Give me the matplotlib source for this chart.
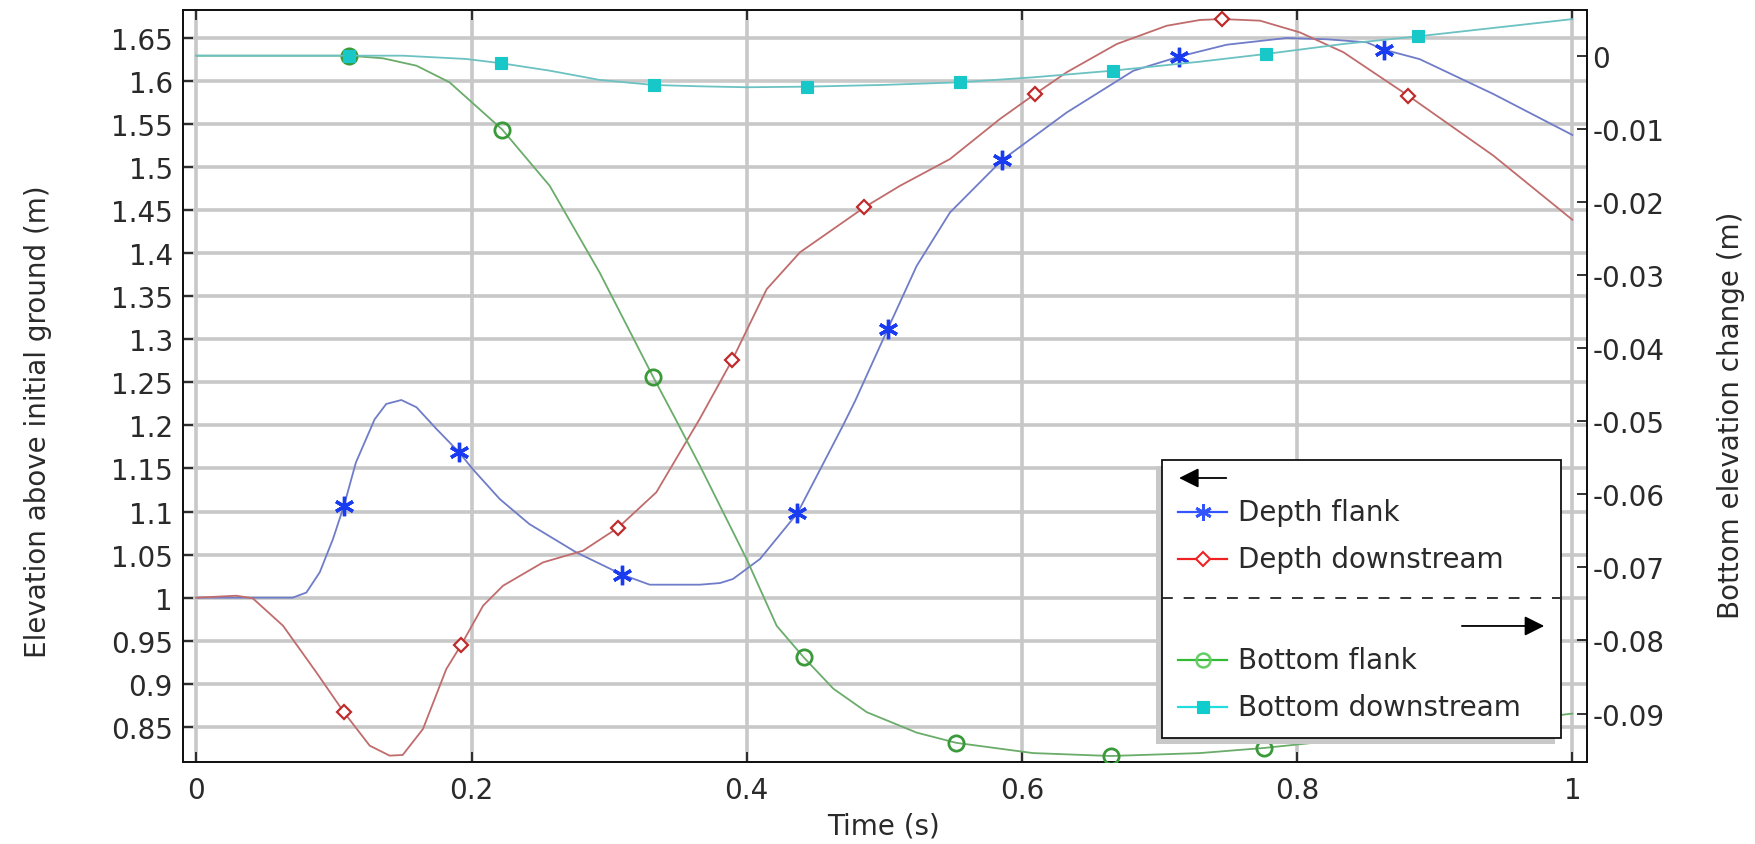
import matplotlib
matplotlib.use("Agg")
import matplotlib.pyplot as plt
from matplotlib.lines import Line2D
from matplotlib.patches import Rectangle, FancyArrowPatch
from matplotlib.ticker import FuncFormatter, MultipleLocator

plt.rcParams["font.family"] = ["DejaVu Sans"]
plt.rcParams["axes.unicode_minus"] = False

# Depth flank (left axis)
flank_t = [0, 0.070, 0.080, 0.0897, 0.0993, 0.1073, 0.116, 0.1296, 0.138, 0.149,
           0.160, 0.1744, 0.191, 0.201, 0.2205, 0.242, 0.276, 0.3096, 0.3295, 0.366,
           0.3806, 0.390, 0.4097, 0.4368, 0.458, 0.470, 0.4787, 0.5025, 0.5235, 0.5477,
           0.5857, 0.6325, 0.681, 0.7144, 0.7488, 0.7924, 0.8215, 0.8506, 0.863, 0.889,
           0.9426, 1.0]
flank_depth = [1.0, 1.0, 1.006, 1.0295, 1.068, 1.1068, 1.157, 1.207, 1.2248, 1.2294,
               1.221, 1.196, 1.1687, 1.149, 1.1145, 1.0855, 1.0527, 1.0267, 1.0151, 1.0151,
               1.017, 1.0217, 1.045, 1.098, 1.163, 1.200, 1.228, 1.3118, 1.385, 1.447,
               1.508, 1.563, 1.6115, 1.628, 1.6417, 1.6495, 1.648, 1.6445, 1.636, 1.625,
               1.5845, 1.537]
flank_marks = [5, 12, 17, 23, 27, 30, 33, 38]

# Depth downstream (left axis)
down_t = [0, 0.029, 0.041, 0.063, 0.0872, 0.1073, 0.126, 0.1405, 0.150, 0.1647,
          0.1817, 0.1926, 0.2084, 0.2229, 0.252, 0.281, 0.3065, 0.3343, 0.3658, 0.3896,
          0.4145, 0.4387, 0.463, 0.4855, 0.5114, 0.5477, 0.584, 0.6095, 0.6325, 0.6689,
          0.7052, 0.7294, 0.7452, 0.773, 0.802, 0.8336, 0.8808, 0.9426, 1.0]
down_depth = [1.0, 1.0023, 0.9993, 0.9675, 0.9134, 0.867, 0.8283, 0.8167, 0.8175, 0.8476,
              0.9173, 0.9455, 0.9907, 1.0139, 1.041, 1.0545, 1.0812, 1.1223, 1.2074, 1.2762,
              1.358, 1.4008, 1.4279, 1.453, 1.478, 1.509, 1.5555, 1.5845, 1.6097, 1.6425,
              1.6637, 1.6704, 1.6715, 1.6696, 1.656, 1.633, 1.5825, 1.513, 1.4386]
down_marks = [5, 11, 16, 19, 23, 27, 32, 36]

# Bottom flank (right axis)
bflank_t = [0, 0.111, 0.1357, 0.160, 0.184, 0.2224, 0.2568, 0.2932, 0.3319, 0.3488,
            0.366, 0.40, 0.4218, 0.4414, 0.463, 0.4872, 0.5235, 0.5523, 0.608, 0.6645,
            0.7294, 0.776, 0.888, 1.0]
bflank_elev = [0, 0, -0.00036, -0.00137, -0.00364, -0.01012, -0.01780, -0.0297, -0.0439, -0.0499,
               -0.0561, -0.0689, -0.078, -0.0823, -0.0866, -0.0898, -0.0926, -0.0940, -0.0954, -0.0958,
               -0.0954, -0.0947, -0.0925, -0.0900]
bflank_marks = [1, 5, 8, 13, 17, 19, 21, 22]

# Bottom downstream (right axis)
bdown_t = [0, 0.111, 0.15, 0.196, 0.2217, 0.2568, 0.2932, 0.3326, 0.3658, 0.40,
           0.4436, 0.4993, 0.555, 0.6083, 0.666, 0.7294, 0.7772, 0.8336, 0.888, 1.0]
bdown_elev = [0, 0, 0, -0.00045, -0.00104, -0.00205, -0.00332, -0.00401, -0.00419, -0.00432,
              -0.00424, -0.0040, -0.00364, -0.00296, -0.00205, -0.00082, 0.00023, 0.0016, 0.00265, 0.0050]
bdown_marks = [1, 4, 7, 10, 12, 14, 16, 18]

labels = ["Depth flank", "Depth downstream", "Bottom flank", "Bottom downstream"]

fig = plt.figure(figsize=(17.55, 8.45), dpi=100)
ax = fig.add_axes([0.1041, 0.0967, 0.8002, 0.8903])
ax2 = ax.twinx()

txt = "#2a2a2a"
fs = 20

ax.plot(flank_t, flank_depth, color="#6f7cc8", lw=1.3, marker=(6, 2, 0), ms=14, mew=2.4,
        mec="#1a3cf0", markevery=flank_marks, zorder=3)
ax.plot(down_t, down_depth, color="#c06c6c", lw=1.3, marker="D", ms=7, mew=1.6,
        mfc="white", mec="#c02a2a", markevery=down_marks, zorder=3)
ax2.plot(bflank_t, bflank_elev, color="#6aac6a", lw=1.3, marker="o", ms=11, mew=2.0,
         mfc="none", mec="#3a9a3a", markevery=bflank_marks, zorder=3)
ax2.plot(bdown_t, bdown_elev, color="#6cc2c2", lw=1.3, marker="s", ms=8, mew=0.8,
         mfc="#18c8c8", mec="#18c8c8", markevery=bdown_marks, zorder=4)

ax.set_xlim(-0.0099, 1.0107)
ax.set_ylim(0.809, 1.682)
ax2.set_ylim(-0.09666, 0.00625)

ax.xaxis.set_major_locator(MultipleLocator(0.2))
ax.yaxis.set_major_locator(MultipleLocator(0.05))
ax2.yaxis.set_major_locator(MultipleLocator(0.01))
fmt = FuncFormatter(lambda v, p: "%g" % round(v, 4))
ax.xaxis.set_major_formatter(fmt)
ax.yaxis.set_major_formatter(fmt)
ax2.yaxis.set_major_formatter(fmt)

ax.set_axisbelow(True)
ax.grid(True, color="#c8c8c8", lw=2.6)

ax.tick_params(axis="both", direction="in", length=7, width=1.2, colors="#111111",
               labelcolor=txt, labelsize=fs, top=True)
ax.tick_params(axis="x", pad=10)
ax.tick_params(axis="y", pad=7)
ax2.tick_params(axis="y", direction="in", length=7, width=1.2, colors="#111111",
                labelcolor=txt, labelsize=fs, pad=4)
for a in (ax, ax2):
    for s in a.spines.values():
        s.set_linewidth(1.3)
        s.set_color("#111111")

ax.set_xlabel("Time (s)", fontsize=fs, color=txt)
ax.set_ylabel("Elevation above initial ground (m)", fontsize=fs, color=txt)
ax2.set_ylabel("Bottom elevation change (m)", fontsize=fs, color=txt)
ax.xaxis.set_label_coords(0.4987, -0.066)
ax.yaxis.set_label_coords(-0.093, 0.454)
ax2.yaxis.set_label_coords(1.0926, 0.462)

# legend drawn by hand, in axes fractions
tr = ax2.transAxes
ax2.add_patch(Rectangle((0.6930, 0.0243), 0.2842, 0.3695, transform=tr,
                        facecolor="#c8c8c8", edgecolor="none", zorder=9, clip_on=False))
ax2.add_patch(Rectangle((0.6973, 0.0323), 0.2842, 0.3695, transform=tr,
                        facecolor="white", edgecolor="#111111", lw=1.3, zorder=10, clip_on=False))
ax2.add_patch(FancyArrowPatch((0.7451, 0.3779), (0.7075, 0.3779), transform=tr,
                              arrowstyle="-|>,head_length=0.6,head_width=0.3",
                              mutation_scale=20, color="black", lw=1.3, zorder=11))
ax2.add_patch(FancyArrowPatch((0.9089, 0.1812), (0.9715, 0.1812), transform=tr,
                              arrowstyle="-|>,head_length=0.6,head_width=0.3",
                              mutation_scale=20, color="black", lw=1.3, zorder=11))
ax2.add_line(Line2D([0.6973, 0.9815], [0.2184, 0.2184], transform=tr, color="#222222",
                    lw=1.3, ls=(0, (6, 6)), zorder=11))

leg_rows = [0.3327, 0.2702, 0.1360, 0.0735]
leg_style = [
    dict(color="#3355ff", marker=(6, 2, 0), ms=12, mew=2.0, mec="#3355ff"),
    dict(color="#ee2222", marker="D", ms=7, mew=1.5, mfc="white", mec="#ee2222"),
    dict(color="#33bb33", marker="o", ms=10, mew=1.8, mfc="none", mec="#66cc66"),
    dict(color="#22dddd", marker="s", ms=8, mew=0.8, mfc="#11cccc", mec="#11cccc"),
]
for yy, lab, st in zip(leg_rows, labels, leg_style):
    ax2.add_line(Line2D([0.7087, 0.7436], [yy, yy], transform=tr, lw=1.6,
                        color=st["color"], zorder=11))
    ax2.add_line(Line2D([0.7262], [yy], transform=tr, lw=0, zorder=12,
                        **{k: v for k, v in st.items() if k != "color"}))
    ax2.text(0.7515, yy, lab, transform=tr, fontsize=fs, color=txt,
             va="center", ha="left", zorder=12)

fig.savefig("out.png", dpi=100)
